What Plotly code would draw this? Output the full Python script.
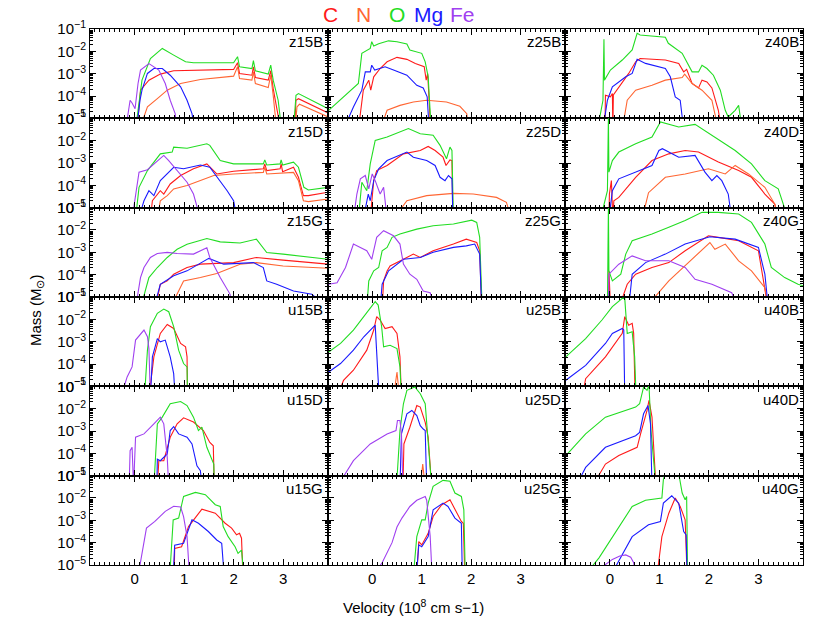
import numpy as np
import plotly.graph_objects as go
from plotly.subplots import make_subplots

# ---------------- chart values (velocity in 1e8 cm/s, log10 mass in Msun) ----------------
ELEMENTS = ["C", "N", "O", "Mg", "Fe"]
COLORS = {"C": "#ff1a1a", "N": "#ff6633", "O": "#22dd22", "Mg": "#1a1aff", "Fe": "#a040f0"}
PANEL_NAMES = [["z15B", "z25B", "z40B"],
               ["z15D", "z25D", "z40D"],
               ["z15G", "z25G", "z40G"],
               ["u15B", "u25B", "u40B"],
               ["u15D", "u25D", "u40D"],
               ["u15G", "u25G", "u40G"]]
X_TICKS = [0, 1, 2, 3]
Y_TICK_EXP = [-5, -4, -3, -2, -1]

# z15B
z15B_C = ([0.05, 0.12, 0.29, 0.52, 0.79, 1.33, 2.00, 2.08, 2.12, 2.37, 2.40, 2.44, 2.70, 2.75, 2.80, 2.88, 2.95, 3.23, 3.26, 3.31, 3.91],
          [-5.5, -3.74, -3.29, -3.02, -2.87, -2.84, -2.81, -2.51, -2.99, -3.07, -2.69, -3.17, -3.29, -2.87, -3.67, -4.64, -5.5, -5.5, -4.19, -4.12, -4.76])
z15B_N = ([0.10, 0.26, 0.46, 0.66, 0.93, 1.33, 2.00, 2.08, 2.12, 2.37, 2.40, 2.44, 2.70, 2.75, 2.80, 2.87, 3.24, 3.28, 3.33, 3.91],
          [-5.5, -4.49, -4.12, -3.74, -3.44, -3.26, -3.11, -2.69, -3.22, -3.29, -2.92, -3.44, -3.62, -3.07, -3.97, -5.5, -5.5, -4.49, -4.37, -4.94])
z15B_O = ([0.02, 0.15, 0.32, 0.56, 0.79, 1.03, 1.19, 2.00, 2.08, 2.12, 2.37, 2.40, 2.44, 2.70, 2.75, 2.80, 2.90, 2.97, 3.21, 3.26, 3.31, 3.91],
          [-5.5, -3.29, -2.32, -1.87, -2.17, -2.47, -2.51, -2.51, -2.24, -2.69, -2.77, -2.42, -2.87, -3.02, -2.62, -3.29, -4.19, -5.5, -5.5, -3.97, -3.89, -4.57])
z15B_Mg = ([0.04, 0.11, 0.15, 0.26, 0.39, 0.56, 0.72, 0.93, 1.06, 1.16, 1.21],
           [-5.5, -4.19, -3.74, -2.99, -2.77, -2.77, -3.07, -3.59, -4.19, -4.79, -5.5])
z15B_Fe = ([-0.18, -0.09, -0.05, 0.01, 0.07, 0.12, 0.29, 0.49, 0.62, 0.72, 0.82, 0.85],
           [-5.5, -4.19, -4.31, -4.57, -3.44, -2.84, -2.55, -2.84, -3.44, -4.19, -4.79, -5.5])

# z25B
z25B_C = ([-0.28, -0.18, -0.07, -0.03, 0.03, 0.16, 0.30, 0.50, 0.70, 0.87, 1.05, 1.09, 1.12, 1.15, 1.18],
          [-5.5, -3.74, -3.29, -3.74, -3.14, -2.77, -2.47, -2.27, -2.36, -2.54, -2.69, -3.29, -2.99, -4.19, -5.5])
z25B_N = ([0.16, 0.30, 0.56, 0.83, 1.10, 1.50, 1.77, 1.91, 1.94],
          [-5.5, -4.64, -4.42, -4.27, -4.19, -4.27, -4.46, -4.79, -5.5])
z25B_O = ([-0.88, -0.28, -0.21, -0.04, -0.01, 0.03, 0.13, 0.33, 0.50, 0.70, 0.76, 1.00, 1.07, 1.13, 1.19],
          [-4.64, -3.44, -2.09, -1.87, -1.57, -1.76, -1.66, -1.53, -1.57, -1.67, -1.94, -2.09, -2.47, -3.14, -5.5])
z25B_Mg = ([-0.58, -0.38, -0.21, -0.14, -0.04, -0.01, 0.05, 0.26, 0.43, 0.70, 0.90, 1.03, 1.11, 1.15],
           [-5.5, -4.49, -3.74, -2.92, -2.92, -2.62, -2.84, -2.69, -2.84, -3.07, -3.52, -3.64, -4.04, -5.5])
z25B_Fe = ([], [])

# z40B
z40B_C = ([-0.10, -0.09, 0.01, 0.05, 0.06, 0.07, 0.38, 0.52, 0.61, 1.12, 1.39, 1.49, 1.55, 1.66, 1.79, 1.86, 1.96, 2.06, 2.19, 2.25],
          [-5.5, -3.97, -4.04, -3.89, -5.5, -3.95, -2.99, -2.47, -2.32, -2.39, -2.54, -2.92, -2.81, -3.44, -3.64, -3.29, -3.37, -3.64, -4.64, -5.5])
z40B_N = ([0.25, 0.35, 0.52, 0.85, 1.12, 1.46, 1.51, 1.66, 1.86, 2.06, 2.19],
          [-5.5, -4.19, -3.74, -3.52, -3.29, -3.17, -3.02, -3.44, -3.74, -4.19, -5.5])
z40B_O = ([-0.25, -0.14, -0.12, -0.11, 0.01, 0.25, 0.45, 0.55, 0.61, 1.12, 1.18, 1.46, 1.66, 1.79, 1.86, 1.96, 2.09, 2.23, 2.33, 2.39, 2.53, 2.60, 2.67],
          [-5.5, -4.19, -1.46, -3.29, -2.84, -2.39, -1.94, -1.19, -1.27, -1.37, -1.64, -2.09, -2.92, -2.92, -2.62, -2.77, -3.07, -3.74, -4.64, -4.94, -4.64, -4.42, -5.5])
z40B_Mg = ([-0.14, -0.05, 0.05, 0.32, 0.45, 0.55, 0.72, 1.12, 1.22, 1.32, 1.42, 1.49],
           [-5.5, -4.19, -3.59, -3.14, -2.99, -2.36, -2.54, -2.77, -3.14, -4.04, -4.19, -5.5])
z40B_Fe = ([], [])

# z15D
z15D_C = ([0.32, 0.36, 0.52, 0.59, 0.72, 0.93, 1.19, 1.46, 1.66, 2.00, 2.60, 2.63, 2.67, 2.94, 2.96, 2.99, 3.21, 3.31, 3.41, 3.51, 3.91],
          [-5.5, -4.69, -4.24, -4.39, -3.94, -3.56, -3.26, -3.04, -3.49, -3.37, -3.26, -3.04, -3.34, -3.26, -3.04, -3.39, -3.19, -3.64, -4.46, -4.46, -4.31])
z15D_N = ([0.46, 0.52, 0.66, 0.79, 1.06, 1.33, 1.60, 2.00, 2.60, 2.63, 2.67, 3.21, 3.31, 3.41, 3.51, 3.91],
          [-5.5, -4.69, -4.46, -4.16, -4.01, -3.79, -3.56, -3.49, -3.42, -3.19, -3.49, -3.42, -3.79, -4.69, -4.73, -4.61])
z15D_O = ([0.02, 0.09, 0.26, 0.52, 0.76, 0.79, 1.06, 1.46, 1.52, 1.73, 2.00, 2.60, 2.63, 2.67, 2.94, 2.96, 2.99, 3.21, 3.31, 3.42, 3.51, 3.91],
          [-5.5, -4.09, -3.34, -2.59, -2.51, -2.29, -2.34, -2.14, -2.21, -2.89, -3.04, -3.04, -2.86, -3.09, -3.04, -2.86, -3.09, -2.96, -3.19, -4.09, -4.21, -4.09])
z15D_Mg = ([0.08, 0.19, 0.29, 0.39, 0.52, 0.79, 0.99, 1.33, 1.52, 1.73, 1.87, 2.00, 2.07],
           [-5.5, -4.69, -4.24, -4.46, -3.79, -3.19, -3.26, -3.09, -3.19, -3.79, -4.24, -4.69, -5.5])
z15D_Fe = ([-0.05, 0.02, 0.09, 0.26, 0.49, 0.59, 0.69, 0.86, 1.06, 1.19, 1.33],
           [-5.5, -4.46, -3.41, -3.30, -2.86, -2.66, -2.89, -3.34, -3.86, -4.39, -5.5])

# z25D
z25D_C = ([-0.04, 0.03, 0.09, 0.30, 0.63, 0.97, 1.13, 1.27, 1.43, 1.49, 1.57, 1.61, 1.63],
          [-5.5, -3.79, -3.34, -3.11, -2.59, -2.44, -2.26, -2.44, -2.74, -3.11, -2.86, -2.89, -5.5])
z25D_N = ([0.43, 0.70, 1.10, 1.64, 2.04, 2.51, 2.71, 2.81],
          [-5.5, -4.69, -4.46, -4.36, -4.39, -4.54, -4.76, -5.5])
z25D_O = ([-0.28, -0.21, -0.11, -0.04, 0.06, 0.30, 0.73, 0.97, 1.23, 1.37, 1.50, 1.57, 1.61, 1.64],
          [-5.5, -3.86, -4.24, -3.04, -1.99, -1.84, -1.46, -1.69, -1.76, -2.21, -2.81, -2.29, -2.44, -5.5])
z25D_Mg = ([-0.18, -0.08, -0.04, 0.03, 0.13, 0.30, 0.70, 0.83, 1.10, 1.27, 1.37, 1.47, 1.54, 1.61, 1.63],
           [-5.5, -4.39, -4.69, -3.79, -3.26, -2.89, -2.51, -2.74, -2.89, -3.11, -3.64, -3.79, -3.56, -3.71, -5.5])
z25D_Fe = ([-0.38, -0.31, -0.24, -0.14, -0.07, 0.00, 0.06, 0.16, 0.23, 0.30],
           [-5.5, -4.39, -3.71, -3.56, -4.16, -3.49, -3.79, -4.39, -4.09, -5.5])

# z40D
z40D_C = ([-0.02, -0.01, 0.03, 0.06, 0.08, 0.18, 0.52, 0.85, 1.19, 1.52, 1.79, 2.19, 2.60, 2.86, 3.13, 3.33, 3.40],
          [-5.5, -4.39, -3.79, -5.5, -4.69, -4.54, -3.64, -2.89, -2.59, -2.44, -2.51, -2.96, -3.34, -3.64, -4.39, -4.84, -5.5])
z40D_N = ([0.65, 0.78, 1.12, 1.52, 1.99, 2.33, 2.53, 2.80, 3.13, 3.33, 3.40],
          [-5.5, -4.33, -3.64, -3.49, -3.26, -3.49, -3.11, -3.49, -4.09, -4.84, -5.5])
z40D_O = ([-0.19, -0.05, -0.03, -0.02, 0.05, 0.18, 0.52, 0.85, 1.02, 1.39, 1.72, 2.06, 2.53, 2.86, 3.13, 3.40, 3.60],
          [-5.5, -4.24, -0.9, -3.41, -2.89, -2.51, -2.14, -1.84, -1.16, -1.39, -1.27, -1.76, -2.44, -3.04, -3.79, -4.16, -5.5])
z40D_Mg = ([-0.02, 0.05, 0.18, 0.52, 0.85, 0.99, 1.06, 1.39, 1.72, 1.92, 2.06, 2.16, 2.26, 2.39, 2.46],
           [-5.5, -4.24, -3.71, -3.41, -3.11, -2.44, -2.36, -2.74, -2.66, -3.41, -3.79, -3.56, -3.79, -4.39, -5.5])
z40D_Fe = ([], [])

# z15G
z15G_C = ([0.42, 0.52, 0.66, 0.79, 1.06, 1.33, 2.00, 2.46, 3.00, 3.91],
          [-5.5, -4.43, -4.28, -3.98, -3.68, -3.53, -3.46, -3.23, -3.35, -3.53])
z15G_N = ([0.66, 0.79, 0.99, 1.33, 1.66, 2.13, 2.46, 3.00, 3.91],
          [-5.5, -5.18, -4.28, -4.13, -3.95, -3.53, -3.46, -3.61, -3.71])
z15G_O = ([0.12, 0.29, 0.46, 0.66, 0.86, 1.06, 1.46, 1.73, 2.13, 2.46, 2.67, 3.00, 3.91],
          [-5.5, -4.13, -3.68, -3.23, -2.86, -2.64, -2.38, -2.53, -2.58, -2.41, -3.01, -3.08, -3.31])
z15G_Mg = ([0.39, 0.52, 0.79, 1.06, 1.50, 1.80, 2.40, 2.60, 2.67, 2.87, 3.21, 3.58, 3.91],
           [-5.5, -4.43, -4.05, -3.83, -3.27, -3.53, -3.46, -3.68, -4.28, -4.43, -4.73, -4.88, -5.5])
z15G_Fe = ([0.02, 0.12, 0.19, 0.32, 0.46, 0.66, 0.86, 1.19, 1.46, 1.52, 1.73, 1.93, 1.96],
           [-5.5, -4.13, -3.68, -3.23, -3.05, -3.00, -3.05, -3.08, -2.80, -3.23, -4.13, -4.88, -5.5])

# z25G
z25G_C = ([0.20, 0.23, 0.30, 0.36, 0.63, 0.83, 0.97, 1.23, 1.64, 1.90, 2.11, 2.17, 2.21],
          [-5.5, -4.28, -3.83, -3.61, -3.31, -3.08, -3.23, -2.93, -2.63, -2.41, -2.56, -2.93, -5.5])
z25G_N = ([0.76, 0.97, 1.30, 1.77, 2.31, 2.98, 3.65, 3.82],
          [-5.5, -5.3, -5.15, -5.0, -5.0, -5.05, -5.24, -5.5])
z25G_O = ([-0.11, -0.07, 0.03, 0.13, 0.20, 0.30, 0.40, 0.56, 0.90, 1.23, 1.64, 2.01, 2.11, 2.17, 2.22],
          [-5.5, -4.28, -3.83, -3.68, -2.93, -2.78, -2.33, -2.18, -1.96, -1.81, -1.73, -1.56, -1.66, -2.33, -5.5])
z25G_Mg = ([0.16, 0.20, 0.33, 0.63, 0.97, 1.23, 1.64, 1.90, 2.07, 2.17, 2.21],
           [-5.5, -4.43, -3.83, -3.31, -3.23, -3.00, -2.78, -2.71, -2.63, -3.08, -5.5])
z25G_Fe = ([-0.88, -0.71, -0.54, -0.38, -0.24, -0.11, -0.01, 0.09, 0.23, 0.43, 0.56, 0.63, 0.76, 0.90, 1.03, 1.17, 1.27],
           [-4.43, -4.36, -3.68, -2.63, -2.78, -2.93, -3.31, -2.33, -2.03, -2.26, -2.63, -3.53, -3.98, -4.21, -4.73, -4.81, -5.5])

# z40G
z40G_C = ([-0.02, -0.02, 0.01, 0.18, 0.35, 0.52, 0.85, 1.19, 1.52, 1.99, 2.19, 2.60, 3.00, 3.17, 3.53, 3.80],
          [-5.5, -3.83, -5.3, -5.5, -4.43, -3.98, -3.68, -3.46, -2.93, -2.26, -2.33, -2.48, -2.93, -5.18, -5.33, -5.5])
z40G_N = ([0.18, 0.85, 1.19, 1.52, 2.02, 2.12, 2.33, 2.60, 2.86, 3.13, 3.20],
          [-5.5, -5.15, -4.28, -3.61, -2.56, -2.86, -2.63, -3.38, -3.83, -4.58, -5.5])
z40G_O = ([-0.05, -0.03, -0.02, 0.05, 0.22, 0.32, 0.45, 0.85, 1.19, 1.52, 1.86, 2.19, 2.60, 2.86, 3.13, 3.26, 3.53, 3.80, 3.90],
          [-5.5, -0.9, -3.83, -4.28, -3.98, -3.08, -2.48, -2.18, -1.88, -1.58, -1.21, -1.21, -1.28, -1.66, -2.63, -3.68, -4.13, -4.43, -4.50])
z40G_Mg = ([0.38, 0.45, 0.72, 1.12, 1.52, 2.02, 2.53, 3.00, 3.13, 3.20],
           [-5.5, -3.98, -3.46, -3.08, -2.63, -2.30, -2.41, -2.78, -3.98, -5.5])
z40G_Fe = ([-0.03, -0.02, 0.18, 0.45, 0.72, 1.19, 1.52, 1.72, 2.06, 2.46, 2.60],
           [-5.5, -3.98, -3.53, -3.16, -3.38, -3.38, -3.68, -4.21, -4.43, -4.81, -5.5])

# u15B
u15B_C = ([0.29, 0.39, 0.52, 0.66, 0.79, 0.93, 1.03, 1.06, 1.07],
          [-5.5, -3.68, -2.63, -2.23, -2.41, -3.08, -3.23, -3.68, -5.5])
u15B_N = ([], [])
u15B_O = ([0.20, 0.26, 0.32, 0.46, 0.59, 0.69, 0.79, 0.89, 0.99, 1.06, 1.07],
          [-5.5, -3.38, -2.33, -1.73, -1.54, -1.66, -2.33, -3.38, -3.98, -4.13, -5.5])
u15B_Mg = ([0.32, 0.36, 0.46, 0.52, 0.62, 0.72, 0.79, 0.82],
           [-5.5, -3.68, -2.86, -3.01, -2.93, -3.68, -4.43, -5.5])
u15B_Fe = ([-0.28, -0.15, -0.05, 0.02, 0.19, 0.26, 0.29, 0.32],
           [-5.5, -4.58, -4.13, -2.93, -2.48, -2.78, -3.31, -5.5])

# u25B
u25B_C = ([-0.71, -0.58, -0.38, -0.11, 0.03, 0.09, 0.16, 0.26, 0.40, 0.50, 0.56, 0.59],
          [-5.5, -4.73, -4.28, -3.38, -2.48, -1.88, -2.03, -2.41, -2.33, -2.63, -3.68, -5.5])
u25B_N = ([0.43, 0.50, 0.55], [-5.5, -4.36, -5.5])
u25B_O = ([-0.88, -0.64, -0.38, -0.11, 0.06, 0.12, 0.19, 0.23, 0.36, 0.50, 0.56, 0.59],
          [-3.46, -3.08, -2.48, -1.73, -1.21, -1.36, -2.33, -3.23, -3.16, -3.31, -4.13, -5.5])
u25B_Mg = ([-0.88, -0.64, -0.38, -0.17, 0.06, 0.09, 0.12, 0.14],
           [-4.36, -3.98, -3.38, -2.78, -2.26, -3.68, -4.73, -5.5])
u25B_Fe = ([], [])

# u40B
u40B_C = ([-0.56, -0.49, -0.09, 0.25, 0.30, 0.38, 0.45, 0.48, 0.51],
          [-5.5, -4.66, -3.68, -2.63, -1.88, -2.26, -2.18, -2.63, -5.5])
u40B_N = ([], [])
u40B_O = ([-0.89, -0.49, -0.16, 0.05, 0.25, 0.30, 0.35, 0.45, 0.50, 0.53],
          [-3.68, -2.86, -2.03, -1.43, -1.06, -1.06, -2.63, -2.56, -3.68, -5.5])
u40B_Mg = ([-0.89, -0.49, -0.09, 0.05, 0.25, 0.28, 0.30],
           [-4.73, -4.06, -3.08, -2.63, -2.41, -2.48, -5.5])
u40B_Fe = ([], [])

# u15D
u15D_C = ([0.46, 0.49, 0.59, 0.72, 0.86, 0.99, 1.19, 1.39, 1.52, 1.59, 1.61],
          [-5.5, -4.33, -4.33, -3.28, -2.68, -2.41, -2.60, -2.98, -3.51, -3.66, -5.5])
u15D_N = ([], [])
u15D_O = ([0.39, 0.46, 0.56, 0.72, 0.93, 1.06, 1.19, 1.29, 1.36, 1.46, 1.60, 1.61],
          [-5.5, -2.68, -2.38, -1.78, -1.68, -1.86, -2.38, -2.98, -2.83, -3.73, -4.48, -5.5])
u15D_Mg = ([0.45, 0.46, 0.52, 0.66, 0.72, 0.79, 0.89, 1.06, 1.16, 1.26, 1.33, 1.36],
           [-5.5, -4.26, -4.33, -4.03, -2.98, -2.80, -3.13, -3.28, -3.58, -4.56, -4.78, -5.5])
u15D_Fe = ([-0.11, -0.09, -0.05, -0.02, 0.02, 0.19, 0.39, 0.52, 0.59, 0.66, 0.69],
           [-5.5, -3.88, -3.73, -5.5, -3.28, -3.13, -2.68, -2.38, -2.68, -4.18, -5.5])

# u25D
u25D_C = ([0.62, 0.64, 0.76, 0.90, 0.97, 1.07, 1.13, 1.20],
          [-5.5, -3.58, -2.83, -1.86, -1.93, -2.61, -3.28, -5.5])
u25D_N = ([0.97, 1.02, 1.07], [-5.5, -4.48, -5.5])
u25D_O = ([0.49, 0.56, 0.63, 0.70, 0.86, 0.97, 1.07, 1.11, 1.17, 1.20],
          [-5.5, -2.98, -1.78, -1.18, -1.03, -1.33, -1.78, -2.98, -4.48, -5.5])
u25D_Mg = ([0.56, 0.59, 0.70, 0.80, 0.90, 0.97, 1.03, 1.07, 1.10],
           [-5.5, -3.13, -2.23, -2.08, -2.31, -2.76, -2.91, -2.98, -5.5])
u25D_Fe = ([-0.71, -0.38, -0.04, 0.30, 0.48, 0.51, 0.56, 0.59, 0.62],
           [-5.5, -4.33, -3.58, -3.13, -2.98, -2.53, -2.53, -3.13, -5.5])

# u40D
u40D_C = ([-0.36, -0.09, 0.18, 0.55, 0.62, 0.75, 0.79, 0.85, 0.93],
          [-5.5, -4.48, -4.10, -3.73, -3.13, -2.08, -1.63, -2.38, -5.5])
u40D_N = ([0.75, 0.77, 0.79], [-5.5, -5.3, -5.5])
u40D_O = ([-0.89, -0.49, -0.09, 0.52, 0.60, 0.68, 0.75, 0.79, 0.83, 0.91, 0.93],
          [-4.10, -3.13, -2.38, -1.93, -1.78, -1.03, -1.18, -0.95, -2.98, -5.2, -5.5])
u40D_Mg = ([-0.69, -0.49, -0.09, 0.52, 0.60, 0.68, 0.77, 0.82, 0.85],
           [-5.5, -4.63, -3.73, -3.21, -3.06, -2.23, -1.86, -2.68, -5.5])
u40D_Fe = ([], [])

# u15G
u15G_C = ([0.80, 0.81, 0.95, 1.09, 1.36, 1.63, 1.83, 1.96, 2.06, 2.12, 2.16, 2.19],
          [-5.5, -4.26, -4.18, -3.28, -2.50, -2.68, -3.13, -3.35, -3.65, -3.58, -3.80, -5.5])
u15G_N = ([], [])
u15G_O = ([0.71, 0.78, 0.89, 0.99, 1.23, 1.43, 1.63, 1.73, 1.79, 1.89, 2.03, 2.09, 2.16, 2.21],
          [-5.5, -2.98, -2.90, -1.93, -1.75, -1.85, -2.30, -2.38, -3.28, -3.73, -4.18, -4.48, -4.33, -5.5])
u15G_Mg = ([0.78, 0.81, 0.99, 1.16, 1.29, 1.49, 1.66, 1.76, 1.81],
           [-5.5, -4.11, -4.03, -2.98, -3.13, -3.50, -3.88, -4.03, -5.5])
u15G_Fe = ([0.07, 0.17, 0.24, 0.41, 0.62, 0.79, 0.93, 0.99, 1.06, 1.11],
           [-5.5, -4.18, -3.35, -3.05, -2.60, -2.37, -2.40, -2.83, -3.73, -5.5])

# u25G
u25G_C = ([0.90, 0.94, 1.00, 1.13, 1.23, 1.40, 1.57, 1.67, 1.80, 1.84, 1.87],
          [-5.5, -3.95, -4.10, -3.58, -2.83, -2.31, -2.08, -2.53, -3.05, -3.13, -5.5])
u25G_N = ([1.57, 1.65, 1.71], [-5.5, -5.15, -5.5])
u25G_O = ([0.83, 0.90, 1.00, 1.07, 1.13, 1.23, 1.43, 1.57, 1.67, 1.80, 1.85, 1.88],
          [-5.5, -3.73, -2.98, -2.98, -2.23, -1.48, -1.21, -1.25, -1.78, -1.93, -2.53, -5.5])
u25G_Mg = ([0.89, 0.94, 1.00, 1.13, 1.23, 1.43, 1.53, 1.67, 1.80, 1.82],
           [-5.5, -4.10, -4.18, -3.73, -2.53, -2.23, -2.38, -2.90, -3.13, -5.5])
u25G_Fe = ([0.00, 0.20, 0.40, 0.50, 0.60, 0.76, 0.90, 1.07, 1.10, 1.17, 1.21],
           [-5.5, -4.9, -4.0, -3.3, -2.9, -2.38, -2.10, -1.93, -2.10, -3.70, -5.5])

# u40G
u40G_C = ([0.95, 1.05, 1.19, 1.32, 1.42, 1.52, 1.56],
          [-5.5, -3.73, -2.68, -2.00, -2.38, -2.98, -5.5])
u40G_N = ([1.15, 1.22, 1.28], [-5.5, -5.3, -5.5])
u40G_O = ([-0.52, -0.22, 0.45, 0.72, 1.05, 1.08, 1.12, 1.39, 1.46, 1.52, 1.55, 1.57],
          [-5.5, -4.68, -2.38, -2.10, -2.00, -1.18, -0.9, -0.9, -1.78, -2.08, -1.93, -5.5])
u40G_Mg = ([0.01, 0.45, 0.78, 1.02, 1.08, 1.25, 1.39, 1.49, 1.54, 1.56],
           [-5.5, -3.73, -3.20, -3.05, -2.23, -1.90, -2.23, -3.50, -3.65, -5.5])
u40G_Fe = ([-0.29, -0.10, 0.05, 0.20, 0.32, 0.42, 0.48, 0.52],
           [-5.5, -5.0, -4.75, -4.6, -4.55, -4.65, -4.9, -5.5])

# ---------------- build figure ----------------
SERIES = {name: {el: globals()[f"{name}_{el}"] for el in ELEMENTS}
          for row in PANEL_NAMES for name in row}

FONT = "Liberation Sans, Arial, sans-serif"
fig = make_subplots(rows=6, cols=3, horizontal_spacing=0, vertical_spacing=0)

for r, row in enumerate(PANEL_NAMES, start=1):
    for c, name in enumerate(row, start=1):
        for el in ELEMENTS:
            v, lm = SERIES[name][el]
            if len(v) == 0:
                continue
            fig.add_trace(go.Scatter(x=v, y=10 ** np.array(lm), mode="lines",
                                     line=dict(color=COLORS[el], width=1.1),
                                     showlegend=False, hoverinfo="skip"),
                          row=r, col=c)

y_tickvals = [10.0 ** e for e in Y_TICK_EXP]
y_ticktext = [f"10<sup>\u2212{abs(e)}</sup>" for e in Y_TICK_EXP]
y_minor = [k * 10.0 ** e for e in Y_TICK_EXP[:-1] for k in range(2, 10)]

annotations = []
for r, row in enumerate(PANEL_NAMES, start=1):
    for c, name in enumerate(row, start=1):
        idx = (r - 1) * 3 + c
        sfx = "" if idx == 1 else str(idx)
        fig.layout["xaxis" + sfx].update(
            range=[-0.9, 3.9], showgrid=False, zeroline=False, automargin=False,
            showline=True, linecolor="black", linewidth=1, mirror="allticks",
            ticks="inside", ticklen=6, tickcolor="black", tickvals=X_TICKS,
            showticklabels=(r == 6), tickfont=dict(size=15, family=FONT, color="black"),
            minor=dict(dtick=0.1, ticks="inside", ticklen=3, tickcolor="black", showgrid=False))
        fig.layout["yaxis" + sfx].update(
            type="log", range=[-5, -1], showgrid=False, zeroline=False, automargin=False,
            showline=True, linecolor="black", linewidth=1, mirror="allticks",
            ticks="inside", ticklen=6, tickcolor="black",
            tickmode="array", tickvals=y_tickvals, ticktext=y_ticktext,
            showticklabels=(c == 1), tickfont=dict(size=15, family=FONT, color="black"),
            minor=dict(tickvals=y_minor, ticks="inside", ticklen=3, tickcolor="black", showgrid=False))
        annotations.append(dict(text=name, xref=f"x{sfx} domain", yref=f"y{sfx} domain",
                                x=0.99, y=0.975, xanchor="right", yanchor="top", showarrow=False,
                                font=dict(size=15, family=FONT, color="black")))

# element header
header_x = [330, 363, 397, 428, 462]
for el, px in zip(ELEMENTS, header_x):
    annotations.append(dict(text=el, xref="paper", yref="paper",
                            x=(px - 90) / 713, y=(565 - 15) / 536, xanchor="center", yanchor="middle",
                            showarrow=False, font=dict(size=21, family=FONT, color=COLORS[el])))

annotations.append(dict(text="Mass (M<sub>\u2299</sub>)", xref="paper", yref="paper",
                        x=(36 - 90) / 713, y=(565 - 310) / 536, textangle=-90,
                        xanchor="center", yanchor="middle", showarrow=False,
                        font=dict(size=15, family=FONT, color="black")))
annotations.append(dict(text="Velocity (10<sup>8</sup> cm s\u22121)", xref="paper", yref="paper",
                        x=(413 - 90) / 713, y=(565 - 606) / 536,
                        xanchor="center", yanchor="middle", showarrow=False,
                        font=dict(size=15, family=FONT, color="black")))

fig.update_layout(width=830, height=623, margin=dict(l=90, r=27, t=29, b=58),
                  paper_bgcolor="white", plot_bgcolor="white",
                  annotations=annotations, font=dict(family=FONT, color="black"))

fig.write_html("out.html", config={"displayModeBar": False, "staticPlot": True},
               post_script="document.body.style.margin='0';document.body.style.padding='0';"
                           "document.body.style.overflow='hidden';")
